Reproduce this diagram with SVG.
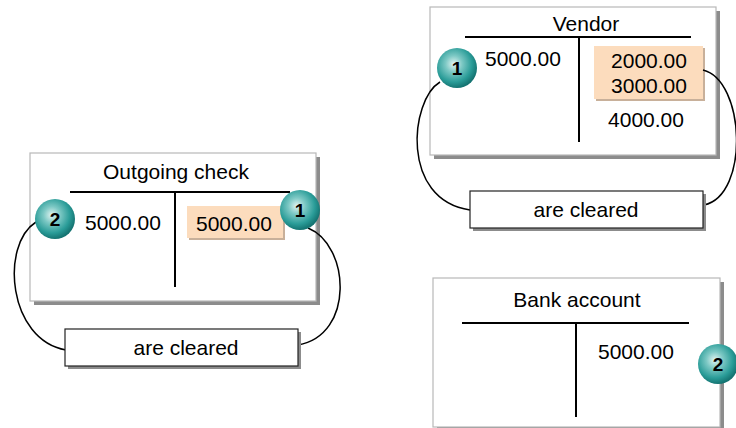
<svg xmlns="http://www.w3.org/2000/svg" width="736" height="428" viewBox="0 0 736 428">
<defs>
<radialGradient id="teal" cx="0.42" cy="0.4" r="0.6">
<stop offset="0" stop-color="#E2F4F2"/>
<stop offset="0.35" stop-color="#7CC8C4"/>
<stop offset="0.75" stop-color="#2A9C98"/>
<stop offset="1" stop-color="#157472"/>
</radialGradient>
<g id="badge"><circle r="20" fill="url(#teal)"/></g>
</defs>
<style>
.acct{fill:#fff;stroke:#b8b8b8;stroke-width:1.2}
.shadow{fill:#8c8c8c}
.tline{stroke:#000;stroke-width:2;fill:none}
.t{font-family:"Liberation Sans",Arial,sans-serif;font-size:21px;fill:#000}
.mid{text-anchor:middle}
.hl{fill:#FCDCBD}
.hls{fill:#c8b09a}
.lbl{fill:#fff;stroke:#222;stroke-width:1.2}
.num{font-family:"Liberation Sans",Arial,sans-serif;font-size:19px;font-weight:bold;fill:#000;text-anchor:middle}
.conn{fill:none;stroke:#000;stroke-width:1.5}
</style>
<rect width="736" height="428" fill="#fff"/>

<g id="outgoing-check">
<rect class="shadow" x="34" y="157" width="286" height="148"/>
<rect class="acct" x="30" y="153" width="286" height="148"/>
<text class="t mid" x="176" y="179">Outgoing check</text>
<line class="tline" x1="70" y1="192" x2="290" y2="192"/>
<line class="tline" x1="175" y1="192" x2="175" y2="287"/>
<text class="t" x="85" y="230">5000.00</text>
<rect class="hls" x="189" y="208" width="96" height="32"/>
<rect class="hl" x="187" y="206" width="96" height="32"/>
<text class="t" x="196" y="231">5000.00</text>
</g>

<g id="vendor">
<rect class="shadow" x="434" y="11" width="286" height="148"/>
<rect class="acct" x="430" y="7" width="286" height="148"/>
<text class="t mid" x="586" y="31">Vendor</text>
<line class="tline" x1="465" y1="37" x2="691" y2="37"/>
<line class="tline" x1="579" y1="37" x2="579" y2="142"/>
<text class="t" x="485" y="66">5000.00</text>
<rect class="hls" x="596" y="48" width="109" height="53"/>
<rect class="hl" x="594" y="46" width="109" height="53"/>
<text class="t mid" x="649" y="68">2000.00</text>
<text class="t mid" x="649" y="93">3000.00</text>
<text class="t mid" x="646" y="127">4000.00</text>
</g>

<g id="bank-account">
<rect class="shadow" x="437" y="282" width="287" height="149"/>
<rect class="acct" x="433" y="278" width="287" height="149"/>
<text class="t mid" x="577" y="307">Bank account</text>
<line class="tline" x1="462" y1="323" x2="689" y2="323"/>
<line class="tline" x1="576" y1="323" x2="576" y2="417"/>
<text class="t" x="598" y="359">5000.00</text>
</g>

<g id="connectors">
<path class="conn" d="M36,222 C0,245 8,340 66,350"/>
<path class="conn" d="M308,228 C350,245 355,335 298,345"/>
<path class="conn" d="M440,82 C410,100 400,200 470,210"/>
<path class="conn" d="M703,70 C745,80 750,195 704,205"/>
</g>

<g id="cleared-1">
<rect class="shadow" x="68" y="332" width="233" height="37"/>
<rect class="lbl" x="65" y="329" width="233" height="37"/>
<text class="t mid" x="186" y="355">are cleared</text>
</g>

<g id="cleared-2">
<rect class="shadow" x="473" y="194" width="233" height="37"/>
<rect class="lbl" x="470" y="191" width="233" height="37"/>
<text class="t mid" x="586" y="217">are cleared</text>
</g>

<g id="badge-2-outgoing">
<use href="#badge" x="55" y="219"/>
<text class="num" x="55" y="226">2</text>
</g>
<g id="badge-1-outgoing">
<use href="#badge" x="300" y="210"/>
<text class="num" x="300" y="217">1</text>
</g>
<g id="badge-1-vendor">
<use href="#badge" x="457" y="68"/>
<text class="num" x="457" y="75">1</text>
</g>
<g id="badge-2-bank">
<use href="#badge" x="718" y="364"/>
<text class="num" x="718" y="371">2</text>
</g>
</svg>
